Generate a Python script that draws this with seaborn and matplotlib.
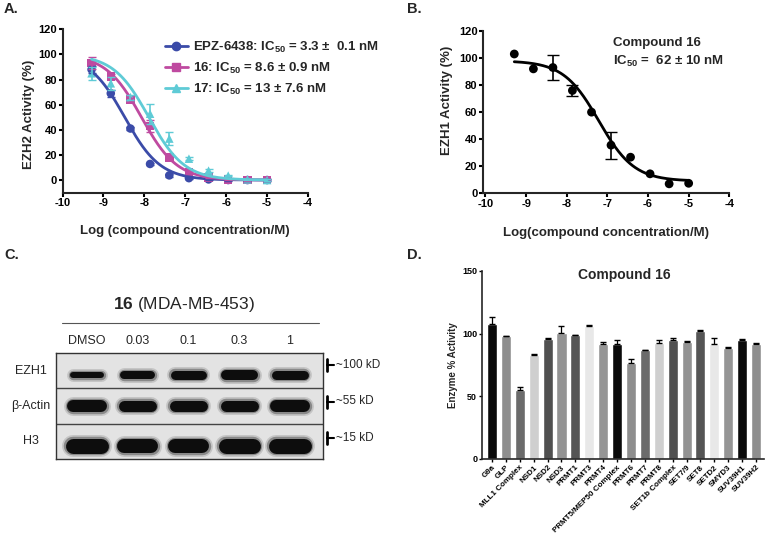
import numpy as np
import pandas as pd
import seaborn as sns
import matplotlib.pyplot as plt
from matplotlib.lines import Line2D

# ---- data ----
log_conc = [-9.29, -8.82, -8.34, -7.86, -7.39, -6.91, -6.43, -5.95, -5.48, -5.0]

# panel A: EZH2 activity (%)
epz_act = [88, 69, 41, 12.8, 3.7, 1.5, 0.5, 0, 0, 0]
epz_err = [3, 3, 1, 1, 1, 0.5, 0.5, 0.5, 0.5, 0.5]
c16_act = [93, 82.6, 64, 43, 17.8, 5.8, 2, 0.5, 0, 0]
c16_err = [5, 2, 1.5, 5, 1, 1, 0.5, 0.5, 0.5, 0.5]
c17_act = [85, 77, 66, 52.8, 33, 17, 7.5, 3.5, 0.5, 0]
c17_err = [5, 5, 2, 8, 5, 1, 1, 0.5, 0.5, 0.5]
# fit parameters (logIC50, hill, top, bottom)
fit_a = {"EPZ-6438": (-8.48, 1.0, 100, 0),
         "16": (-8.07, 1.0, 100, 0),
         "17": (-7.89, 1.0, 100, 0)}
labels_a = [r"EPZ-6438: IC$_{\mathbf{50}}$ = 3.3 ±  0.1 nM",
            r"16: IC$_{\mathbf{50}}$ = 8.6 ± 0.9 nM",
            r"17: IC$_{\mathbf{50}}$ = 13 ± 7.6 nM"]
colors_a = ["#3b4ba8", "#bf4aa0", "#5fcbd6"]
markers_a = ["o", "s", "^"]

# panel B: EZH1 activity (%)
ezh1_act = [103, 92, 93, 76, 60, 35.6, 26.7, 14.4, 7, 7.4]
ezh1_err = [0, 0, 9, 4, 0, 10, 0, 0, 0, 0]
fit_b = (-7.21, 1.0, 98, 9)

# panel C: western blot
lanes = ["DMSO", "0.03", "0.1", "0.3", "1"]
blot_rows = ["EZH1", "β-Actin", "H3"]
size_marks = ["~100 kD", "~55 kD", "~15 kD"]
band_thick = [[6, 8, 9, 10, 9],
              [12, 11, 11, 11, 12],
              [15, 14, 14, 15, 15]]

# panel D: selectivity panel
enzymes = ["G9a", "GLP", "MLL1 Complex", "NSD1", "NSD2", "NSD3", "PRMT1", "PRMT3",
           "PRMT4", "PRMT5/MEP50 Complex", "PRMT6", "PRMT7", "PRMT8", "SET1b Complex",
           "SET7/9", "SET8", "SETD2", "SMYD3", "SUV39H1", "SUV39H2"]
activity = [107.4, 98, 55.4, 82.7, 96, 100.5, 98.7, 106, 91.5, 91.5,
            76.6, 86.7, 92.3, 94.7, 93.4, 101.9, 92, 88.9, 95.2, 92]
act_err = [5.8, 0.5, 2, 1, 0.5, 6, 0.5, 1, 1.5, 3.5,
           3.5, 0.5, 2.7, 1.5, 0.5, 1, 4.5, 0.5, 0.3, 0.5]
gray_cycle = ["#0a0a0a", "#8e8e8e", "#6b6b6b", "#cfcfcf", "#505050",
              "#939393", "#555555", "#e8e8e8", "#959595"]

# ---- style ----
sns.set_theme(style="ticks")
plt.rcParams["font.family"] = ["Liberation Sans", "DejaVu Sans"]
plt.rcParams["mathtext.fontset"] = "custom"
plt.rcParams["mathtext.rm"] = "Liberation Sans"
plt.rcParams["mathtext.bf"] = "Liberation Sans:bold"
plt.rcParams["axes.linewidth"] = 1.5
plt.rcParams["axes.unicode_minus"] = False

W, H = 766, 539
fig = plt.figure(figsize=(W / 100, H / 100), dpi=100)


def px_axes(l, t, r, b):
    return fig.add_axes([l / W, 1 - b / H, (r - l) / W, (b - t) / H])


def hill(x, p):
    logic, h, top, bot = p
    return bot + (top - bot) / (1 + 10 ** ((np.asarray(x) - logic) * h))


def style_curve_axes(ax):
    sns.despine(ax=ax)
    ax.tick_params(length=3, width=1.5, labelsize=8, pad=1, colors="black")
    for lab in ax.get_xticklabels() + ax.get_yticklabels():
        lab.set_fontweight("bold")


# ---- panel A ----
axA = px_axes(62.5, 29.3, 308, 192.6)
xs = np.linspace(log_conc[0], log_conc[-1], 200)
series = [(epz_act, epz_err), (c16_act, c16_err), (c17_act, c17_err)]
for (name, p), (act, err), col, mk, lab in zip(fit_a.items(), series, colors_a, markers_a, labels_a):
    sns.lineplot(x=xs, y=hill(xs, p), ax=axA, color=col, lw=2)
    axA.errorbar(log_conc, act, yerr=err, fmt="none", ecolor=col, elinewidth=1.2, capsize=3)
    sns.scatterplot(x=log_conc, y=act, ax=axA, color=col, marker=mk, s=38, edgecolor="none")
axA.set_xlim(-10, -4)
axA.set_ylim(-10, 120)
axA.set_xticks(range(-10, -3))
axA.set_yticks(range(0, 121, 20))
style_curve_axes(axA)
axA.set_xlabel("Log (compound concentration/M)", fontsize=9.5, fontweight="bold")
axA.set_ylabel("EZH2 Activity (%)", fontsize=9.5, fontweight="bold")
axA.xaxis.set_label_coords(0.5, -0.2)
axA.yaxis.set_label_coords(-0.11, 0.48)
handles = [Line2D([], [], color=c, marker=m, lw=2, ms=6) for c, m in zip(colors_a, markers_a)]
leg = axA.legend(handles, labels_a, loc="upper left", bbox_to_anchor=(0.39, 0.975),
                 frameon=False, handlelength=1.75, handletextpad=0.4, labelspacing=0.45,
                 borderpad=0, prop={"weight": "bold", "size": 9.5})
leg.set_clip_on(False)

# ---- panel B ----
axB = px_axes(483, 31, 729.3, 193.3)
sns.lineplot(x=xs, y=hill(xs, fit_b), ax=axB, color="black", lw=2)
err_idx = [i for i, e in enumerate(ezh1_err) if e > 0]
axB.errorbar([log_conc[i] for i in err_idx], [ezh1_act[i] for i in err_idx],
             yerr=[ezh1_err[i] for i in err_idx], fmt="none", ecolor="black",
             elinewidth=1.2, capsize=4)
sns.scatterplot(x=log_conc, y=ezh1_act, ax=axB, color="black", s=40, edgecolor="none")
axB.set_xlim(-10.06, -4)
axB.set_ylim(0, 120)
axB.set_xticks(range(-10, -3))
axB.set_yticks(range(0, 121, 20))
style_curve_axes(axB)
axB.set_xlabel("Log(compound concentration/M)", fontsize=9.5, fontweight="bold")
axB.set_ylabel("EZH1 Activity (%)", fontsize=9.5, fontweight="bold")
axB.xaxis.set_label_coords(0.5, -0.21)
axB.yaxis.set_label_coords(-0.12, 0.57)
fig.text(613 / W, 1 - 43 / H, "Compound 16", fontsize=9.5, fontweight="bold", va="center")
fig.text(613 / W, 1 - 61 / H, r"IC$_{\mathbf{50}}$ =  62 ± 10 nM", fontsize=9.5,
         fontweight="bold", va="center")

# ---- panel C (blot) ----
axC = px_axes(56, 353, 323, 459)
axC.set_facecolor("#e3e3e3")
axC.set_xlim(-0.61, 4.65)
axC.set_ylim(3, 0)
offsets = [0.12, 0.0, 0.12]
for r, row in enumerate(blot_rows):
    yc = r + 0.5 + offsets[r]
    for i in range(len(lanes)):
        t = band_thick[r][i] * 0.72
        for extra, alpha in [(5, 0.15), (2.5, 0.35)]:
            axC.plot([i - 0.27, i + 0.27], [yc, yc], color="#1a1a1a", lw=t + extra,
                     alpha=alpha, solid_capstyle="round")
        axC.plot([i - 0.27, i + 0.27], [yc, yc], color="#0d0d0d", lw=t,
                 solid_capstyle="round")
    if r > 0:
        axC.axhline(r, color="#444444", lw=1)
    fig.text(31 / W, 1 - (353 + (r + 0.5) * 35.3) / H, row, fontsize=9, ha="center", va="center")
    ym = 365 + r * 36.5
    fig.add_artist(Line2D([327 / W, 327 / W], [1 - (ym - 6) / H, 1 - (ym + 6) / H],
                          color="black", lw=2))
    fig.add_artist(Line2D([327 / W, 334 / W], [1 - ym / H, 1 - ym / H], color="black", lw=1.5))
    fig.text(336 / W, 1 - ym / H, size_marks[r], fontsize=8.5, va="center")
axC.set_xticks([])
axC.set_yticks([])
for sp in axC.spines.values():
    sp.set_color("#333333")
    sp.set_linewidth(1)
for i, lane in enumerate(lanes):
    axC.text(i, -0.33, lane, fontsize=9, ha="center", va="center", transform=axC.transData)
fig.text(184 / W, 1 - 304 / H, r"$\mathbf{16}$ (MDA-MB-453)", fontsize=12.5, ha="center", va="center")
fig.add_artist(Line2D([62 / W, 319 / W], [1 - 323 / H, 1 - 323 / H], color="#555555", lw=0.8))

# ---- panel D ----
axD = px_axes(482, 271, 764, 459)
dfD = pd.DataFrame({"enzyme": enzymes, "activity": activity})
pal = [gray_cycle[i % len(gray_cycle)] for i in range(len(enzymes))]
sns.barplot(data=dfD, x="enzyme", y="activity", hue="enzyme", palette=pal, legend=False,
            width=0.72, ax=axD, saturation=1)
axD.errorbar(np.arange(len(enzymes)), activity, yerr=[np.zeros(len(act_err)), act_err],
             fmt="none", ecolor="black", elinewidth=0.9, capsize=2)
axD.set_xlim(-0.72, 19.57)
axD.set_ylim(0, 150)
axD.set_yticks([0, 50, 100, 150])
sns.despine(ax=axD)
axD.spines["left"].set_linewidth(1.2)
axD.spines["bottom"].set_linewidth(1.2)
axD.tick_params(length=2.5, width=1, labelsize=6.5, pad=1, colors="black")
axD.set_xticks(range(len(enzymes)))
axD.set_xticklabels(enzymes, rotation=45, ha="right", rotation_mode="anchor",
                    fontsize=5.8, fontweight="bold")
for lab in axD.get_yticklabels():
    lab.set_fontweight("bold")
axD.set_xlabel("")
axD.set_ylabel("Enzyme % Activity", fontsize=7, fontweight="bold")
axD.yaxis.set_label_coords(-0.085, 0.5)
fig.text(624 / W, 1 - 275 / H, "Compound 16", fontsize=10, fontweight="bold",
         ha="center", va="center")

# panel letters
for lab, x, y in [("A.", 4, 9), ("B.", 407, 9), ("C.", 4, 255), ("D.", 407, 255)]:
    fig.text(x / W, 1 - y / H, lab, fontsize=10.5, fontweight="bold", va="center")

fig.savefig("out.png", dpi=100)
